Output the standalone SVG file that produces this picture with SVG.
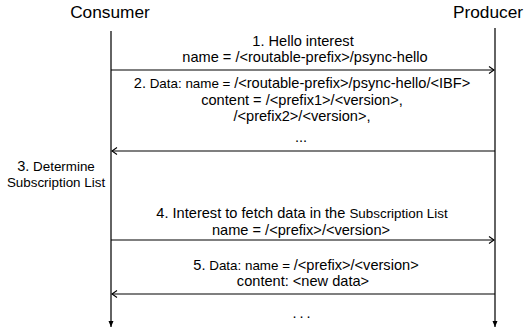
<svg xmlns="http://www.w3.org/2000/svg" width="524" height="335" viewBox="0 0 524 335">
<style>
text{font-family:"Liberation Sans",Arial,sans-serif;fill:#000;}
.actor{font-size:17.3px;text-anchor:middle;}
.msg{font-size:14.6px;text-anchor:middle;}
.sm{font-size:13.4px;}
.life{stroke:#222;stroke-width:1.4;fill:none;}
.arr{stroke:#000;stroke-width:1.2;fill:none;}
</style>
<defs>
<marker id="open" markerUnits="userSpaceOnUse" markerWidth="10" markerHeight="10" viewBox="0 0 10 10" refX="6" refY="5" orient="auto">
<path d="M1,1.5 L6,5 L1,8.5" fill="none" stroke="#000" stroke-width="1.1"/>
</marker>
<marker id="solid" markerUnits="userSpaceOnUse" markerWidth="8" markerHeight="8" viewBox="0 0 8 8" refX="6" refY="4" orient="auto">
<path d="M0,1.5 L6,4 L0,6.5 Z" fill="#000"/>
</marker>
</defs>
<g id="consumer">
<text class="actor" x="110" y="18">Consumer</text>
<line class="life" x1="111" y1="31" x2="111" y2="327" marker-end="url(#solid)"/>
</g>
<g id="producer">
<text class="actor" x="488" y="18">Producer</text>
<line class="life" x1="495" y1="28" x2="495" y2="327" marker-end="url(#solid)"/>
</g>
<g id="step3">
<text class="msg" x="56" y="171"><tspan>3.</tspan><tspan class="sm"> Determine</tspan></text>
<text class="msg sm" x="56" y="187">Subscription List</text>
</g>
<g id="connectors">
<g id="msg1">
<line class="arr" x1="111" y1="70" x2="494" y2="70" marker-end="url(#open)"/>
<text class="msg" x="303" y="46">1. Hello interest</text>
<text class="msg" x="305" y="62">name = /&lt;routable-prefix&gt;/psync-hello</text>
</g>
<g id="msg2">
<line class="arr" x1="495" y1="151" x2="112" y2="151" marker-end="url(#open)"/>
<text class="msg" x="302" y="88">2.<tspan class="sm"> Data: name = </tspan>/&lt;routable-prefix&gt;/psync-hello/&lt;IBF&gt;</text>
<text class="msg" x="302" y="105">content = /&lt;prefix1&gt;/&lt;version&gt;,</text>
<text class="msg" x="302" y="121">/&lt;prefix2&gt;/&lt;version&gt;,</text>
<text class="msg" x="301" y="142">...</text>
</g>
<g id="msg4">
<line class="arr" x1="111" y1="240" x2="494" y2="240" marker-end="url(#open)"/>
<text class="msg" x="302" y="218">4. Interest to fetch data in the <tspan class="sm">Subscription List</tspan></text>
<text class="msg" x="301" y="235">name = /&lt;prefix&gt;/&lt;version&gt;</text>
</g>
<g id="msg5">
<line class="arr" x1="495" y1="294" x2="112" y2="294" marker-end="url(#open)"/>
<text class="msg" x="306" y="270">5.<tspan class="sm"> Data: name = </tspan>/&lt;prefix&gt;/&lt;version&gt;</text>
<text class="msg" x="303" y="286">content: &lt;new data&gt;</text>
</g>
</g>
<text class="msg" x="303" y="318" letter-spacing="3">...</text>
</svg>
